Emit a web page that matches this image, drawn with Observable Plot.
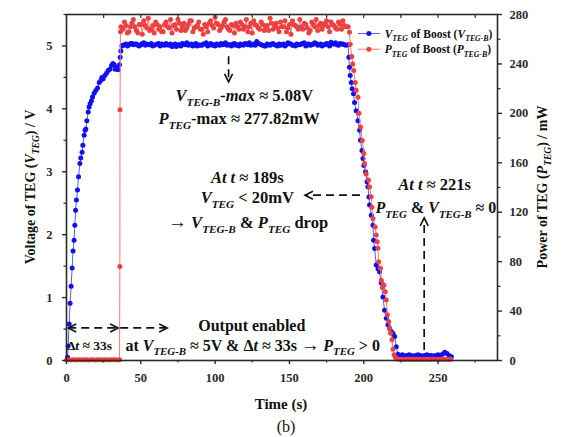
<!DOCTYPE html>
<html><head><meta charset="utf-8">
<script src="https://cdn.jsdelivr.net/npm/d3@7"></script>
<script src="https://cdn.jsdelivr.net/npm/@observablehq/plot@0.6"></script>
<style>html,body{margin:0;padding:0;background:#fff}svg{display:block}</style>
</head><body><div id="chart"></div>
<script>
// ---------- data ----------
const vRiseTime = [0.7,1.1,1.8,2.4,3.1,3.8,4.4,5.1,5.6,6.1,6.7,7.4,8.1,9.0,9.6,10.5,11.0,11.9,12.5,13.0,13.7,14.6,15.2,15.9,16.8,17.5,18.6,19.7,20.9,22.0,23.1,23.8,24.7,25.8,27.0,28.0,29.2,30.3,31.2,32.1,32.7,33.9,34.8,35.7,36.1,36.6,37.3];
const vRise = [0.05,0.23,0.58,0.91,1.18,1.47,1.74,1.91,2.15,2.39,2.55,2.71,2.92,3.13,3.22,3.31,3.42,3.58,3.66,3.68,3.81,3.95,4.03,4.08,4.13,4.19,4.25,4.29,4.33,4.42,4.45,4.50,4.48,4.53,4.57,4.61,4.63,4.69,4.72,4.70,4.63,4.66,4.62,4.70,4.82,4.92,5.00];

const plateauTimeA = [38,40,42,44,46,48,50,52,54,56,58,60,62,64,66,68,70,72,74,76,78,80,82,84,86,88,90,92,94,96,98,100,102,104,106,108,110,112,114,116,118,120,122,124,126,128,130,132,134,136,138,140,142,144,146,148,150,152,154,156,158,160,162,164,166,168,170,172,174,176,178,180,182,184,186,188];
const plateauTimeB = [39,41,43,45,47,49,51,53,55,57,59,61,63,65,67,69,71,73,75,77,79,81,83,85,87,89,91,93,95,97,99,101,103,105,107,109,111,113,115,117,119,121,123,125,127,129,131,133,135,137,139,141,143,145,147,149,151,153,155,157,159,161,163,165,167,169,171,173,175,177,179,181,183,185,187];
const vPlateauA = [5.01,5.03,5.02,5.04,5.03,5.01,5.02,5.05,5.03,5.02,
  5.00,5.02,5.04,5.03,5.01,5.02,5.03,5.00,4.99,5.02,
  5.04,5.02,5.01,5.03,5.02,5.00,5.01,5.03,5.05,5.02,
  5.01,5.00,5.02,5.04,5.03,5.01,5.02,5.03,5.01,5.00,
  5.02,5.04,5.02,5.01,5.03,5.07,5.03,5.01,5.00,5.02,
  5.03,5.02,5.00,5.01,5.03,5.02,5.04,5.01,5.00,5.02,
  5.03,5.05,5.02,5.01,5.03,5.04,5.02,5.00,5.02,5.03,
  5.06,5.03,5.02,5.04,5.03,5.01];
const vPlateauB = [5.02,5.00,5.04,5.02,5.03,5.00,5.04,5.01,5.02,5.04,
  5.01,5.03,5.00,5.02,5.04,5.01,4.99,5.03,5.02,5.00,
  5.03,5.05,5.02,5.00,5.04,5.02,5.01,5.03,5.00,5.04,
  5.02,5.03,5.01,5.02,5.05,5.02,5.00,5.04,5.02,5.03,
  5.01,5.03,5.05,5.02,5.01,5.04,5.02,5.00,5.03,5.01,
  5.04,5.01,5.03,5.02,5.00,5.05,5.03,5.01,5.03,5.02,
  5.04,5.00,5.03,5.02,5.05,5.01,5.03,5.02,5.04,5.00,
  5.03,5.05,5.01,5.03,5.02];

const vFallTime = [189.4,190.0,190.4,190.9,191.6,192.2,193.1,193.8,194.9,196.1,197.2,197.8,198.8,199.5,200.1,201.2,202.2,202.8,203.5,203.9,205.1,206.2,206.6,207.3,208.4,209.6,210.6,211.8,212.9,214.0,215.2,216.3,217.4,218.5,219.7,220.8,221.9,223.0];
const vFall = [5.02,4.82,4.66,4.53,4.42,4.32,4.24,4.10,3.97,3.81,3.66,3.50,3.34,3.21,3.10,3.00,2.84,2.76,2.60,2.47,2.31,2.15,1.91,1.78,1.52,1.46,1.41,1.23,1.01,0.80,0.67,0.57,0.51,0.46,0.43,0.38,0.22,0.10];

const vTailTime = [224.5,226,227.5,229,230.5,232,233.5,235,236.5,238,239.5,241,242.5,244,245.5,247,248.5,250,251.5,253,254.5,256,257.5,259];
const vTail = [0.08,0.09,0.07,0.08,0.09,0.08,0.07,0.08,0.09,0.08,0.07,0.08,0.09,0.08,0.08,0.07,0.08,0.09,0.08,0.10,0.13,0.11,0.08,0.06];

const pStartTime = [0,1.5,3,4.5,6,7.5,9,10.5,12,13.5,15,16.5,18,19.5,21,22.5,24,25.5,27,28.5,30,31.5,33,34.5,35.7];
const pStart = [0.5,0.6,0.5,0.7,0.5,0.6,0.6,0.5,0.7,0.6,0.5,0.6,0.7,0.5,0.6,0.6,0.5,0.7,0.6,0.5,0.6,0.7,0.6,0.5,0.6];
const pJumpTime = [35.9,36.0,36.3,36.6];
const pJump = [76,203,266,270];
const pPlateauA = [268,271,266,273,270,265,272,275,269,267,
  271,274,268,266,272,270,276,271,268,273,
  270,267,272,275,269,271,268,264,270,273,
  271,277.8,272,269,274,270,267,271,273,268,
  272,270,266,273,275,271,268,272,270,267,
  273,271,269,274,270,266,272,275,271,268,
  270,273,269,267,272,276,271,268,273,270,
  274,271,268,272,275,270];
const pPlateauB = [274,265,270,276,267,272,264,271,277,268,
  265,272,270,266,274,269,265,272,276,267,
  273,269,275,266,270,274,268,272,266,275,
  269,273,267,271,276,268,272,265,270,274,
  268,276,270,265,272,269,274,267,271,277,
  268,273,266,270,275,269,264,272,270,276,
  268,272,265,274,270,267,273,271,275,266,
  272,269,274,268,271];
const pFallTime = [189.5,190.4,190.9,192.0,192.6,193.3,194.3,194.9,196.1,196.8,197.8,199.0,200.1,200.5,201.6,203.2,203.9,205.0,205.5,206.2,207.7,208.4,209.1,209.6,210.0,211.3,211.8,212.5,213.6,214.5,215.2,215.9,216.8,217.4,218.1,219.0,219.7,220.4,221.3];
const pFall = [270,265.7,256,246,240,234.7,225,218.6,213,200,189,178,167.5,159.4,151,146,140.5,132.5,124,115,108,101.5,96,90.8,80,74.6,65,59,61,55.7,49,37,31.5,26,22,16.7,9.2,4.6,2.4];
const pTailTime = [222.5,224,225.5,227,228.5,230,231.5,233,234.5,236,237.5,239,240.5,242,243.5,245,246.5,248,249.5,251,252.5,254,255.5,257,258.5];
const pTail = [1.2,1.0,1.1,0.9,1.0,1.1,1.0,0.9,1.0,1.1,1.0,0.9,1.0,1.0,1.1,0.9,1.0,1.1,1.0,0.9,1.0,1.1,1.0,0.9,1.0];

const xTicks = [0,50,100,150,200,250];
const xMinorTicks = [25,75,125,175,225,275];
const vTicks = [0,1,2,3,4,5];
const vMinorTicks = [0.5,1.5,2.5,3.5,4.5,5.5];
const pTicks = [0,40,80,120,160,200,240,280];
const pMinorTicks = [20,60,100,140,180,220,260];
const vMax = 5.5, pMax = 280;

// ---------- build tables ----------
const zipT = (ts, vs) => ts.map((t, i) => ({t, val: vs[i]}));
const byT = (a, b) => a.t - b.t;
const vData = [...zipT(vRiseTime, vRise), ...zipT(plateauTimeA, vPlateauA), ...zipT(plateauTimeB, vPlateauB), ...zipT(vFallTime, vFall), ...zipT(vTailTime, vTail)].sort(byT);
const pData = [...zipT(pStartTime, pStart), ...zipT(pJumpTime, pJump), ...zipT(plateauTimeA, pPlateauA), ...zipT(plateauTimeB, pPlateauB), ...zipT(pFallTime, pFall), ...zipT(pTailTime, pTail)].sort(byT);
const K = vMax / pMax; // power -> left-axis units

const BLUE = "#1010f2", BLUE_L = "#5a5aff", RED = "#ee4040", RED_L = "#f27a7a", INK = "#2a2a2a";
const FONT = "'Liberation Serif','Times New Roman',serif";

const chart = Plot.plot({
  width: 564, height: 437,
  marginLeft: 66, marginRight: 67, marginTop: 14, marginBottom: 77,
  x: {domain: [0, 290]},
  y: {domain: [0, vMax]},
  style: {fontFamily: FONT, fontSize: "12.5px", fontWeight: "bold", color: INK, background: "#fff"},
  marks: [
    Plot.line(vData, {x: "t", y: "val", stroke: BLUE_L, strokeWidth: 1}),
    Plot.dot(vData, {x: "t", y: "val", r: 2.5, fill: BLUE, stroke: "none"}),
    Plot.line(pData, {x: "t", y: d => d.val * K, stroke: RED_L, strokeWidth: 1}),
    Plot.dot(pData, {x: "t", y: d => d.val * K, r: 2.5, fill: RED, stroke: "none"}),
    Plot.frame({stroke: INK, strokeWidth: 1.6}),
    Plot.axisX({anchor: "bottom", ticks: xTicks, tickSize: 4, tickPadding: 9, tickFormat: d => d, label: null, strokeWidth: 1.4}),
    Plot.axisX({anchor: "bottom", ticks: xMinorTicks, tickSize: 2.5, tickFormat: () => "", label: null, strokeWidth: 1.2}),
    Plot.axisX({anchor: "top", ticks: [...xTicks, ...xMinorTicks], tickSize: -3, tickFormat: () => "", label: null, strokeWidth: 1.2}),
    Plot.axisY({anchor: "left", ticks: vTicks, tickSize: 4, tickPadding: 10, tickFormat: d => d, label: null, strokeWidth: 1.4}),
    Plot.axisY({anchor: "left", ticks: vMinorTicks, tickSize: 2.5, tickFormat: () => "", label: null, strokeWidth: 1.2}),
    Plot.axisY({anchor: "right", ticks: pTicks.map(p => p * K), tickSize: 4, tickPadding: 8, tickFormat: d => Math.round(d / K), label: null, strokeWidth: 1.4}),
    Plot.axisY({anchor: "right", ticks: pMinorTicks.map(p => p * K), tickSize: 2.5, tickFormat: () => "", label: null, strokeWidth: 1.2})
  ]
});
document.getElementById("chart").appendChild(chart);

// ---------- annotations (positioned through the plot's scales) ----------
const sx = chart.scale("x"), sy = chart.scale("y");
const X = t => sx.apply(t), Y = v => sy.apply(v);
const svg = d3.select(chart);
const ann = svg.append("g").attr("font-family", FONT).attr("font-weight", "bold").attr("fill", "#111");

function rich(x, y, parts, {anchor = "middle", size = 16.5, rotate = null, weight = "bold"} = {}) {
  const t = ann.append("text").attr("x", x).attr("y", y).attr("text-anchor", anchor)
    .attr("font-size", size).attr("font-weight", weight);
  if (rotate !== null) t.attr("transform", `rotate(${rotate},${x},${y})`);
  let shift = 0;
  for (const [str, st] of parts) {
    const sub = st === "s";
    const target = sub ? size * 0.3 : 0;
    const ts = t.append("tspan").text(str);
    if (target - shift !== 0) ts.attr("dy", target - shift);
    shift = target;
    if (st === "i" || st === "s") ts.attr("font-style", "italic");
    if (sub) ts.attr("font-size", size * 0.68);
    if (st === "a") ts.attr("font-size", size * 1.15).attr("font-weight", "normal");
  }
  return t;
}
function head(x, y, dir, len = 8, w = 4) {
  let p;
  if (dir === "l") p = `M${x + len},${y - w}L${x},${y}L${x + len},${y + w}`;
  if (dir === "r") p = `M${x - len},${y - w}L${x},${y}L${x - len},${y + w}`;
  if (dir === "u") p = `M${x - w},${y + len}L${x},${y}L${x + w},${y + len}`;
  if (dir === "d") p = `M${x - w},${y - len}L${x},${y}L${x + w},${y - len}`;
  ann.append("path").attr("d", p).attr("fill", "none").attr("stroke", "#111").attr("stroke-width", 1.6);
}
function dashed(x1, y1, x2, y2) {
  ann.append("line").attr("x1", x1).attr("y1", y1).attr("x2", x2).attr("y2", y2)
    .attr("stroke", "#111").attr("stroke-width", 1.7).attr("stroke-dasharray", "8,5");
}

// max annotation
dashed(X(109.4), Y(4.83), X(109.4), Y(4.44));
head(X(109.4), Y(4.42), "d");
rich(X(120), Y(4.12), [["V", "i"], ["TEG-B", "s"], ["-max", "i"], [" ≈ 5.08V", "b"]]);
rich(X(116.5), Y(3.75), [["P", "i"], ["TEG", "s"], ["-max ≈ 277.82mW", "b"]]);

// t = 189 s
rich(X(122), Y(2.81), [["At t", "i"], [" ≈ 189s", "b"]]);
rich(X(122), Y(2.50), [["V", "i"], ["TEG", "s"], [" < 20mV", "b"]]);
rich(X(122.5), Y(2.10), [["→", "a"], [" ", "b"], ["V", "i"], ["TEG-B", "s"], [" & ", "b"], ["P", "i"], ["TEG", "s"], [" drop", "b"]]);
dashed(X(197.8), Y(2.62), X(161.5), Y(2.62));
head(X(160.8), Y(2.62), "l");

// t = 221 s
rich(X(248), Y(2.70), [["At t", "i"], [" ≈ 221s", "b"]]);
rich(X(208.2), Y(2.34), [["P", "i"], ["TEG", "s"], [" & ", "b"], ["V", "i"], ["TEG-B", "s"], [" ≈ 0", "b"]], {anchor: "start", size: 16});
dashed(X(241), Y(0.16), X(241), Y(2.22));
head(X(241), Y(2.26), "u");

// output enabled
dashed(X(1.5), Y(0.51), X(67.5), Y(0.51));
head(X(1.5), Y(0.51), "l");
head(X(35.1), Y(0.51), "r");
head(X(68.1), Y(0.51), "r");
rich(X(125), Y(0.46), [["Output enabled", "b"]], {size: 16});
rich(X(0.6), Y(0.16), [["Δ", "b"], ["t", "i"], [" ≈ 33s", "b"]], {anchor: "start", size: 13.5});
rich(X(40), Y(0.15), [["at ", "b"], ["V", "i"], ["TEG-B", "s"], [" ≈ 5V & Δ", "b"], ["t", "i"], [" ≈ 33s ", "b"], ["→", "a"], [" ", "b"], ["P", "i"], ["TEG", "s"], [" > 0", "b"]], {anchor: "start", size: 16});

// legend
const legendRows = [
  {v: 5.19, color: BLUE, line: BLUE_L, parts: [["V", "i"], ["TEG", "s"], [" of Boost (", "b"], ["V", "i"], ["TEG-B", "s"], [")", "b"]]},
  {v: 4.94, color: RED, line: RED_L, parts: [["P", "i"], ["TEG", "s"], [" of Boost (", "b"], ["P", "i"], ["TEG-B", "s"], [")", "b"]]}
];
for (const r of legendRows) {
  ann.append("line").attr("x1", X(196.4)).attr("x2", X(211.2)).attr("y1", Y(r.v)).attr("y2", Y(r.v)).attr("stroke", r.line).attr("stroke-width", 1);
  ann.append("circle").attr("cx", X(203.8)).attr("cy", Y(r.v)).attr("r", 2.5).attr("fill", r.color);
  rich(X(214.4), Y(r.v) + 4, r.parts, {anchor: "start", size: 11.5});
}

// axis titles and caption
const [fx0, fx1] = sx.range, [fy0, fy1] = sy.range;
const midY = (fy0 + fy1) / 2, midX = (fx0 + fx1) / 2;
rich(35, midY, [["Voltage of TEG (", "b"], ["V", "i"], ["TEG", "s"], [") / V", "b"]], {size: 14, rotate: -90});
rich(547, midY, [["Power of TEG (", "b"], ["P", "i"], ["TEG", "s"], [") / mW", "b"]], {size: 14, rotate: -90});
rich(midX - 0.5, 409, [["Time (s)", "b"]], {size: 15});
rich(midX + 4.5, 432, [["(b)", "b"]], {size: 16, weight: "normal"});
</script></body></html>
